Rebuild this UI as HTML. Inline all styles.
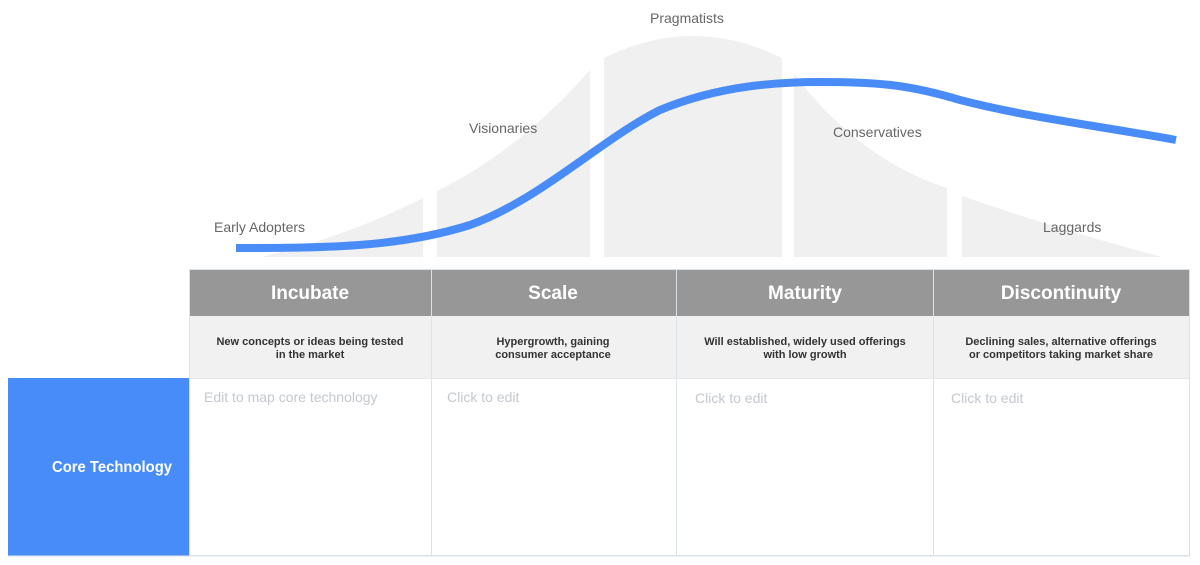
<!DOCTYPE html>
<html><head><meta charset="utf-8"><style>
html,body{margin:0;padding:0;background:#fff;}
body{width:1200px;height:565px;position:relative;overflow:hidden;font-family:"Liberation Sans",sans-serif;}
svg{position:absolute;left:0;top:0;}
</style></head><body>
<svg width="1200" height="565" viewBox="0 0 1200 565">
<g fill="#f0f0f0">
<path d="M262,257 Q350,235 423,198 L423,257 Z"/>
<path d="M437,191 Q520,150 590,70 L590,257 L437,257 Z"/>
<path d="M604,58 Q693,14 782,58 L782,257 L604,257 Z"/>
<path d="M794,74 Q860,160 947,188 L947,257 L794,257 Z"/>
<path d="M962,196 Q1060,230 1162,257 L962,257 Z"/>
</g>
<g font-size="14" fill="#666" font-family="Liberation Sans, sans-serif">
<text x="214" y="232">Early Adopters</text>
<text x="469" y="133">Visionaries</text>
<text x="650" y="23">Pragmatists</text>
<text x="833" y="137">Conservatives</text>
<text x="1043" y="232">Laggards</text>
</g>
<path d="M236,248 C330,248 400,247 470,225 C540,200 600,140 660,110 C720,85 780,82 820,82 C880,82 910,85 960,100 C1030,118 1100,126 1176,140" fill="none" stroke="#4a8cf7" stroke-width="8"/>
<rect x="189" y="269" width="1001" height="47" fill="#979797"/>
<rect x="189" y="316" width="1001" height="62" fill="#f1f1f1"/>
<rect x="8" y="378" width="181" height="178" fill="#488cfa"/>
<rect x="189.5" y="269.5" width="1000" height="286" fill="none" stroke="#dbe3ea"/>
<line x1="189" y1="378.5" x2="1190" y2="378.5" stroke="#e3e9ee"/>
<g stroke="#dbe3ea"><line x1="431.5" y1="269" x2="431.5" y2="556"/><line x1="676.5" y1="269" x2="676.5" y2="556"/><line x1="933.5" y1="269" x2="933.5" y2="556"/></g>
<line x1="8" y1="556" x2="1190" y2="556" stroke="#dbe3ea"/>
<g font-size="19" font-weight="bold" fill="#fff" text-anchor="middle" font-family="Liberation Sans, sans-serif">
<text x="310" y="299">Incubate</text><text x="553" y="299">Scale</text><text x="805" y="299">Maturity</text><text x="1061" y="299">Discontinuity</text>
</g>
<g font-size="11" font-weight="bold" fill="#333" text-anchor="middle" font-family="Liberation Sans, sans-serif">
<text x="310" y="345">New concepts or ideas being tested</text><text x="310" y="358">in the market</text>
<text x="553" y="345">Hypergrowth, gaining</text><text x="553" y="358">consumer acceptance</text>
<text x="805" y="345">Will established, widely used offerings</text><text x="805" y="358">with low growth</text>
<text x="1061" y="345">Declining sales, alternative offerings</text><text x="1061" y="358">or competitors taking market share</text>
</g>
<g font-size="14" fill="#c3c9cf" font-family="Liberation Sans, sans-serif">
<text x="204" y="402">Edit to map core technology</text>
<text x="447" y="402">Click to edit</text>
<text x="695" y="403">Click to edit</text>
<text x="951" y="403">Click to edit</text>
</g>
<text x="52" y="472" font-size="16" font-weight="bold" fill="#fff" textLength="120" lengthAdjust="spacingAndGlyphs" font-family="Liberation Sans, sans-serif">Core Technology</text>
</svg>
</body></html>
